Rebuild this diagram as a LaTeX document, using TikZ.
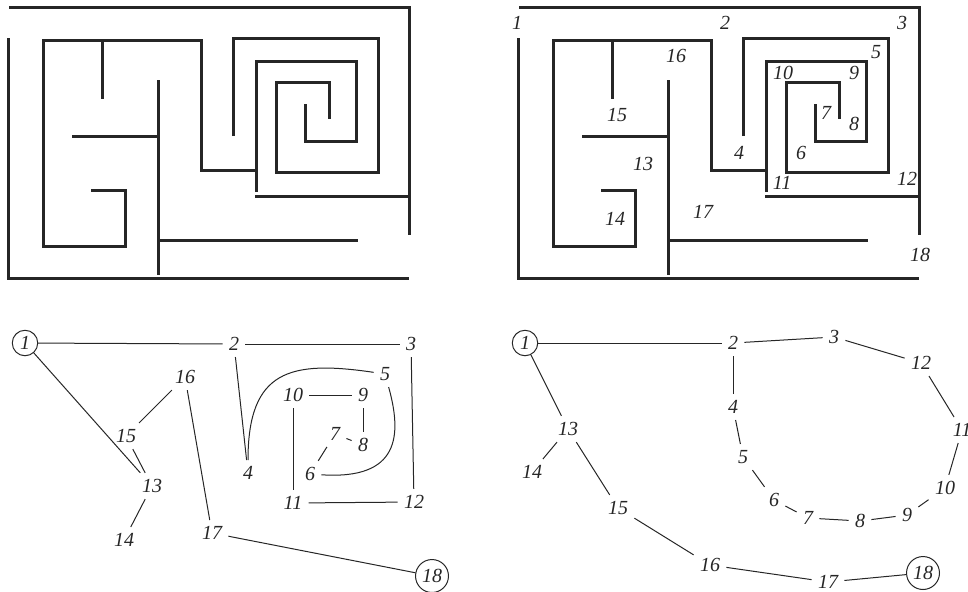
\documentclass[tikz,border=0pt]{standalone}
\usepackage{fontspec}
\setmainfont{Liberation Serif}
\usetikzlibrary{calc}
\definecolor{ink}{HTML}{262626}
\tikzset{
  wall/.style={line width=1.5pt, draw=ink, line cap=butt, line join=miter},
  lbl/.style={font=\itshape, text=ink, inner sep=0pt},
  gn/.style={font=\itshape, text=ink, inner sep=3pt},
  gc/.style={font=\itshape, text=ink, circle, draw=ink, line width=0.5pt, inner sep=1.6pt},
  edge/.style={draw=ink, line width=0.5pt},
  maze/.pic={
    \draw[wall] (9,7) -- (409,7) -- (409,235);
    \draw[wall] (8,38) -- (8,278) -- (409,278);
    \draw[wall] (91,190) -- (125,190) -- (125,246) -- (43,246) -- (43,40) -- (201,40) -- (201,170) -- (256,170);
    \draw[wall] (102,40) -- (102,99);
    \draw[wall] (158,80) -- (158,275);
    \draw[wall] (72,136) -- (158,136);
    \draw[wall] (158,240) -- (358,240);
    \draw[wall] (256,192) -- (256,61) -- (356,61) -- (356,141) -- (305,141) -- (305,104);
    \draw[wall] (233,136) -- (233,38) -- (378,38) -- (378,172) -- (276,172) -- (276,82) -- (329,82) -- (329,119);
    \draw[wall] (255,196) -- (409,196);
  }
}
\begin{document}
\begin{tikzpicture}[x=0.5pt,y=-0.5pt]
\useasboundingbox (0,0) rectangle (968,591);
\pic at (0,0) {maze};
\pic at (510,0) {maze};
% labels in right maze
\node[lbl] (r1) at (517,23) {1};
\node[lbl] (r2) at (725,23) {2};
\node[lbl] (r3) at (902,23) {3};
\node[lbl] (r16) at (676,56) {16};
\node[lbl] (r5) at (876,52) {5};
\node[lbl] (r10) at (783,73) {10};
\node[lbl] (r9) at (854,73) {9};
\node[lbl] (r15) at (617,115) {15};
\node[lbl] (r7) at (826,113) {7};
\node[lbl] (r8) at (854,124) {8};
\node[lbl] (r4) at (739,153) {4};
\node[lbl] (r6) at (801,153) {6};
\node[lbl] (r13) at (643,164) {13};
\node[lbl] (r11) at (782,183) {11};
\node[lbl] (r12) at (907,179) {12};
\node[lbl] (r17) at (703,212) {17};
\node[lbl] (r14) at (615,219) {14};
\node[lbl] (r18) at (920,255) {18};
% bottom-left graph
\node[gc] (n1) at (25,343) {1};
\node[gn] (n2) at (234,344) {2};
\node[gn] (n3) at (411,344) {3};
\node[gn] (n16) at (185,377) {16};
\node[gn] (n5) at (385,374) {5};
\node[gn] (n10) at (293,395) {10};
\node[gn] (n9) at (363,395) {9};
\node[gn] (n15) at (126,436) {15};
\node[gn] (n7) at (335,434) {7};
\node[gn] (n8) at (363,445) {8};
\node[gn] (n4) at (248,473) {4};
\node[gn] (n6) at (310,474) {6};
\node[gn] (n13) at (152,486) {13};
\node[gn] (n11) at (293,503) {11};
\node[gn] (n12) at (414,502) {12};
\node[gn] (n17) at (212,533) {17};
\node[gn] (n14) at (124,540) {14};
\node[gc] (n18) at (432,576) {18};
\draw[edge] (n1) -- (n2);
\draw[edge] (n2) -- (n3);
\draw[edge] (n1) -- (n13);
\draw[edge] (n16) -- (n15);
\draw[edge] (n15) -- (n13);
\draw[edge] (n13) -- (n14);
\draw[edge] (n2) -- (n4);
\draw[edge] (n16) -- (n17);
\draw[edge] (n17) -- (n18);
\draw[edge] (n3) -- (n12);
\draw[edge] (n10) -- (n9);
\draw[edge] (n9) -- (n8);
\draw[edge] (n7) -- (n8);
\draw[edge] (n7) -- (n6);
\draw[edge] (n10) -- (n11);
\draw[edge] (n11) -- (n12);
\draw[edge] (n4) .. controls (248,370) and (290,360) .. (n5);
\draw[edge] (n5) .. controls (402,435) and (400,480) .. (n6);
% bottom-right graph
\node[gc] (m1) at (525,343) {1};
\node[gn] (m2) at (733,343) {2};
\node[gn] (m3) at (834,337) {3};
\node[gn] (m12) at (921,363) {12};
\node[gn] (m11) at (962,430) {11};
\node[gn] (m4) at (733,407) {4};
\node[gn] (m13) at (568,429) {13};
\node[gn] (m14) at (532,472) {14};
\node[gn] (m5) at (743,457) {5};
\node[gn] (m10) at (945,488) {10};
\node[gn] (m6) at (774,500) {6};
\node[gn] (m15) at (618,508) {15};
\node[gn] (m7) at (808,518) {7};
\node[gn] (m8) at (860,521) {8};
\node[gn] (m9) at (907,515) {9};
\node[gn] (m16) at (710,565) {16};
\node[gn] (m17) at (828,582) {17};
\node[gc] (m18) at (923,573) {18};
\draw[edge] (m1) -- (m2);
\draw[edge] (m2) -- (m3);
\draw[edge] (m3) -- (m12);
\draw[edge] (m12) -- (m11);
\draw[edge] (m11) -- (m10);
\draw[edge] (m10) -- (m9);
\draw[edge] (m9) -- (m8);
\draw[edge] (m8) -- (m7);
\draw[edge] (m7) -- (m6);
\draw[edge] (m6) -- (m5);
\draw[edge] (m5) -- (m4);
\draw[edge] (m4) -- (m2);
\draw[edge] (m1) -- (m13);
\draw[edge] (m13) -- (m14);
\draw[edge] (m13) -- (m15);
\draw[edge] (m15) -- (m16);
\draw[edge] (m16) -- (m17);
\draw[edge] (m17) -- (m18);
\end{tikzpicture}
\end{document}
